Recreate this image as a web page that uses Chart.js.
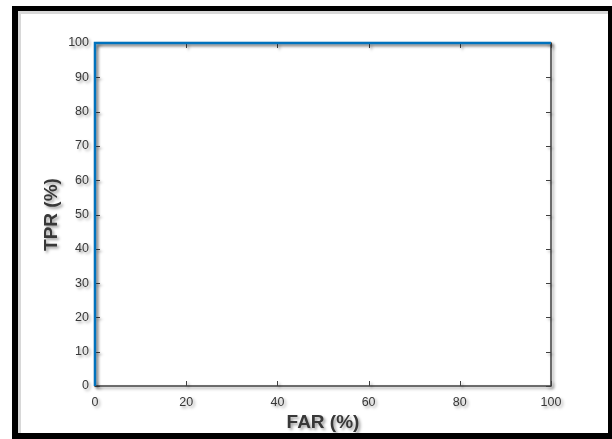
<!DOCTYPE html>
<html>
<head>
<meta charset="utf-8">
<script src="https://cdn.jsdelivr.net/npm/chart.js@4/dist/chart.umd.min.js"></script>
<style>
  html, body { margin: 0; padding: 0; background: #fff; }
  canvas { display: block; }
</style>
</head>
<body>
<canvas id="roc-chart" width="612" height="439"></canvas>
<script>
// ROC curve values (FAR on x, TPR on y), both in percent
const far = [0, 0, 100];
const tpr = [0, 100, 100];
const xTicks = [0, 20, 40, 60, 80, 100];
const yTicks = [0, 10, 20, 30, 40, 50, 60, 70, 80, 90, 100];

const axisGray = '#404040';
const textGray = '#383838';
const lineBlue = 'rgb(0, 114, 189)';
const font = "'Liberation Sans', Arial, sans-serif";

// screenshot frame, box, inward ticks and drop shadows like the source image
const matlabLook = {
  id: 'matlabLook',
  beforeDraw(chart) {
    const ctx = chart.ctx;
    ctx.save();
    ctx.fillStyle = '#fff';
    ctx.fillRect(0, 0, chart.width, chart.height);
    // inner shading along the frame
    ctx.fillStyle = '#d8d8d8';
    ctx.fillRect(18, 11, 3, 422);
    ctx.fillRect(18, 11, 590, 3);
    ctx.fillStyle = '#000';
    ctx.fillRect(12, 6, 6, 433);
    ctx.fillRect(12, 6, 600, 5);
    ctx.fillRect(608, 6, 4, 433);
    ctx.fillRect(12, 433, 600, 6);
    ctx.restore();
    ctx.shadowColor = 'rgba(0, 0, 0, 0.38)';
    ctx.shadowBlur = 3;
    ctx.shadowOffsetX = 2;
    ctx.shadowOffsetY = 2;
  },
  beforeDatasetsDraw(chart) {
    const ctx = chart.ctx;
    const { left, right, top, bottom } = chart.chartArea;
    const xs = chart.scales.x, ys = chart.scales.y;
    ctx.save();
    ctx.strokeStyle = axisGray;
    ctx.lineWidth = 1.5;
    ctx.beginPath();
    ctx.moveTo(left, top);
    ctx.lineTo(right, top);
    ctx.lineTo(right, bottom);
    ctx.lineTo(left, bottom);
    ctx.closePath();
    ctx.stroke();
    ctx.lineWidth = 1;
    ctx.beginPath();
    xTicks.forEach(v => {
      const px = Math.round(xs.getPixelForValue(v)) + 0.5;
      ctx.moveTo(px, bottom); ctx.lineTo(px, bottom - 5);
      ctx.moveTo(px, top); ctx.lineTo(px, top + 5);
    });
    yTicks.forEach(v => {
      const py = Math.round(ys.getPixelForValue(v)) + 0.5;
      ctx.moveTo(left, py); ctx.lineTo(left + 5, py);
      ctx.moveTo(right, py); ctx.lineTo(right - 5, py);
    });
    ctx.stroke();
    ctx.restore();
  },
  afterDraw(chart) {
    const ctx = chart.ctx;
    ctx.shadowColor = 'rgba(0, 0, 0, 0)';
    ctx.shadowBlur = 0;
    ctx.shadowOffsetX = 0;
    ctx.shadowOffsetY = 0;
  }
};

const ctx = document.getElementById('roc-chart').getContext('2d');
const rocChart = new Chart(ctx, {
  type: 'line',
  data: {
    datasets: [{
      data: far.map((x, i) => ({ x: x, y: tpr[i] })),
      borderColor: lineBlue,
      borderWidth: 2.5,
      pointRadius: 0,
      tension: 0,
      fill: false,
      clip: false
    }]
  },
  options: {
    responsive: false,
    animation: false,
    layout: { padding: { left: 18, right: 61, top: 43, bottom: 0 } },
    plugins: {
      legend: { display: false },
      tooltip: { enabled: false }
    },
    events: [],
    scales: {
      x: {
        type: 'linear',
        min: 0,
        max: 100,
        afterBuildTicks: s => { s.ticks = xTicks.map(v => ({ value: v })); },
        afterFit: s => { s.height = 53; },
        grid: { display: false, drawTicks: false },
        border: { display: false },
        ticks: { padding: 9, color: textGray, font: { family: font, size: 12.5 }, maxRotation: 0 },
        title: {
          display: true,
          text: 'FAR (%)',
          color: textGray,
          font: { family: font, size: 19, weight: 'bold' },
          padding: { top: 0, bottom: 5 }
        }
      },
      y: {
        type: 'linear',
        min: 0,
        max: 100,
        afterBuildTicks: s => { s.ticks = yTicks.map(v => ({ value: v })); },
        afterFit: s => { s.width = 77; },
        grid: { display: false, drawTicks: false },
        border: { display: false },
        ticks: { padding: 6, color: textGray, font: { family: font, size: 12.5 } },
        title: {
          display: true,
          text: 'TPR (%)',
          color: textGray,
          font: { family: font, size: 19, weight: 'bold' },
          padding: { top: 22, bottom: 0 }
        }
      }
    }
  },
  plugins: [matlabLook]
});
</script>
</body>
</html>
